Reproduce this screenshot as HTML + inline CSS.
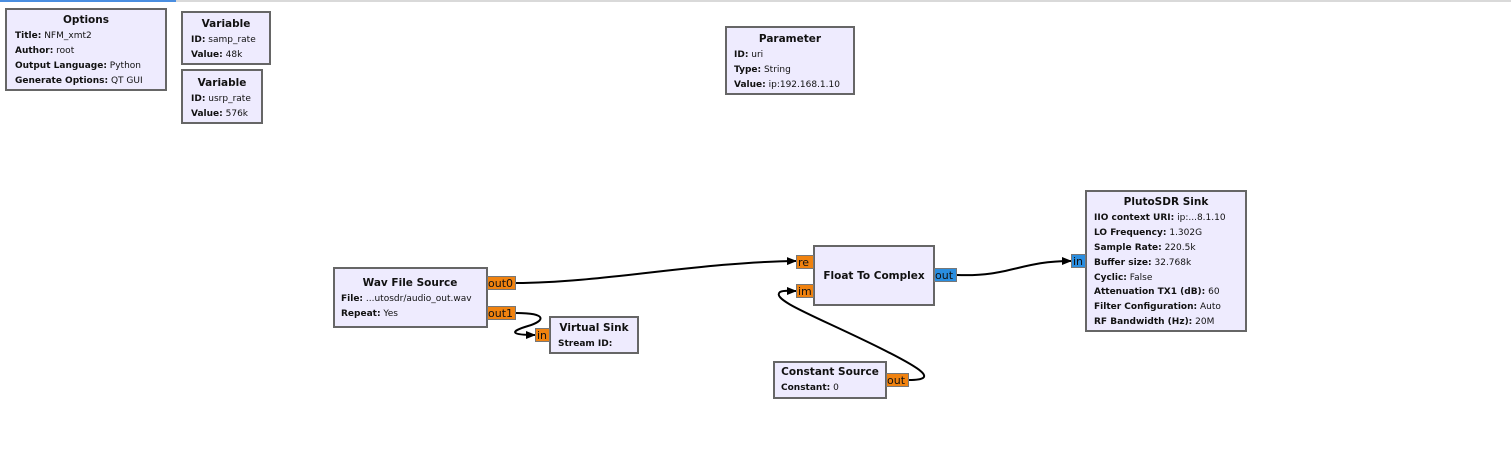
<!DOCTYPE html>
<html><head><meta charset="utf-8">
<style>
html,body{margin:0;padding:0;background:#fff;width:1511px;height:469px;overflow:hidden}
svg{display:block}
text{font-family:"DejaVu Sans","Liberation Sans",sans-serif;font-size:9px;fill:#111}
.t{font-weight:bold;font-size:10.5px;text-anchor:middle}
.b{font-weight:bold}
.box{fill:#eeebfe;stroke:#666;stroke-width:2}
.po{fill:#f0820f;stroke:#777;stroke-width:1}
.pb{fill:#2a8ee0;stroke:#777;stroke-width:1}
.pt{font-size:11px}
.w{fill:none;stroke:#000;stroke-width:2}
</style></head><body>
<svg width="1511" height="469" viewBox="0 0 1511 469">
<defs><marker id="a" markerWidth="10" markerHeight="8" refX="9" refY="4" orient="auto" markerUnits="userSpaceOnUse"><path d="M0,0 L10,4 L0,8 Z" fill="#000"/></marker></defs>
<rect x="0" y="0" width="1511" height="2" fill="#d9d9d9"/>
<rect x="0" y="0" width="176" height="2" fill="#4a8ee0"/>

<rect class="box" x="6" y="9" width="160" height="81"/>
<text class="t" x="86" y="23">Options</text>
<text x="15" y="38"><tspan class="b">Title:</tspan> NFM_xmt2</text>
<text x="15" y="53"><tspan class="b">Author:</tspan> root</text>
<text x="15" y="68"><tspan class="b">Output Language:</tspan> Python</text>
<text x="15" y="83"><tspan class="b">Generate Options:</tspan> QT GUI</text>

<rect class="box" x="182" y="12" width="88" height="52"/>
<text class="t" x="226" y="27">Variable</text>
<text x="191" y="42"><tspan class="b">ID:</tspan> samp_rate</text>
<text x="191" y="57"><tspan class="b">Value:</tspan> 48k</text>
<rect class="box" x="182" y="70" width="80" height="53"/>
<text class="t" x="222" y="86">Variable</text>
<text x="191" y="101"><tspan class="b">ID:</tspan> usrp_rate</text>
<text x="191" y="116"><tspan class="b">Value:</tspan> 576k</text>

<rect class="box" x="726" y="27" width="128" height="67"/>
<text class="t" x="790" y="42">Parameter</text>
<text x="734" y="57"><tspan class="b">ID:</tspan> uri</text>
<text x="734" y="72"><tspan class="b">Type:</tspan> String</text>
<text x="734" y="87"><tspan class="b">Value:</tspan> ip:192.168.1.10</text>

<path class="w" d="M516 283 C600 283, 700 262, 796 261" marker-end="url(#a)"/>
<path class="w" d="M516 313 C548 313, 545 321, 528 326 C508 332, 512 335, 535 335" marker-end="url(#a)"/>
<path class="w" d="M909 380 C940 380, 920 368, 880 348 C820 318, 770 300, 780 292 C784 290, 790 291, 796 291" marker-end="url(#a)"/>
<path class="w" d="M957 275 C1010 277, 1020 261, 1071 261" marker-end="url(#a)"/>

<rect class="box" x="334" y="268" width="153" height="59"/>
<text class="t" x="410" y="286">Wav File Source</text>
<text x="341" y="301"><tspan class="b">File:</tspan> ...utosdr/audio_out.wav</text>
<text x="341" y="316"><tspan class="b">Repeat:</tspan> Yes</text>
<rect class="po" x="487.5" y="276.5" width="28" height="13"/>
<text class="pt" x="488" y="287">out0</text>
<rect class="po" x="487.5" y="306.5" width="28" height="13"/>
<text class="pt" x="488" y="317">out1</text>

<rect class="box" x="550" y="317" width="88" height="36"/>
<text class="t" x="594" y="331">Virtual Sink</text>
<text x="558" y="346" class="b">Stream ID:</text>
<rect class="po" x="535.5" y="328.5" width="14" height="13"/>
<text class="pt" x="537" y="339">in</text>

<rect class="box" x="814" y="246" width="120" height="59"/>
<text class="t" x="874" y="279">Float To Complex</text>
<rect class="po" x="796.5" y="255.5" width="17" height="13"/>
<text class="pt" x="798" y="266">re</text>
<rect class="po" x="796.5" y="284.5" width="17" height="13"/>
<text class="pt" x="798" y="295">im</text>
<rect class="pb" x="934.5" y="268.5" width="22" height="13"/>
<text class="pt" x="935" y="279">out</text>

<rect class="box" x="774" y="362" width="112" height="36"/>
<text class="t" x="830" y="375">Constant Source</text>
<text x="781" y="390"><tspan class="b">Constant:</tspan> 0</text>
<rect class="po" x="886.5" y="373.5" width="22" height="13"/>
<text class="pt" x="887" y="384">out</text>

<rect class="box" x="1086" y="191" width="160" height="140"/>
<text class="t" x="1166" y="205">PlutoSDR Sink</text>
<text x="1094" y="220"><tspan class="b">IIO context URI:</tspan> ip:...8.1.10</text>
<text x="1094" y="235"><tspan class="b">LO Frequency:</tspan> 1.302G</text>
<text x="1094" y="250"><tspan class="b">Sample Rate:</tspan> 220.5k</text>
<text x="1094" y="265"><tspan class="b">Buffer size:</tspan> 32.768k</text>
<text x="1094" y="280"><tspan class="b">Cyclic:</tspan> False</text>
<text x="1094" y="294"><tspan class="b">Attenuation TX1 (dB):</tspan> 60</text>
<text x="1094" y="309"><tspan class="b">Filter Configuration:</tspan> Auto</text>
<text x="1094" y="324"><tspan class="b">RF Bandwidth (Hz):</tspan> 20M</text>
<rect class="pb" x="1071.5" y="254.5" width="14" height="13"/>
<text class="pt" x="1073" y="265">in</text>
</svg>
</body></html>
